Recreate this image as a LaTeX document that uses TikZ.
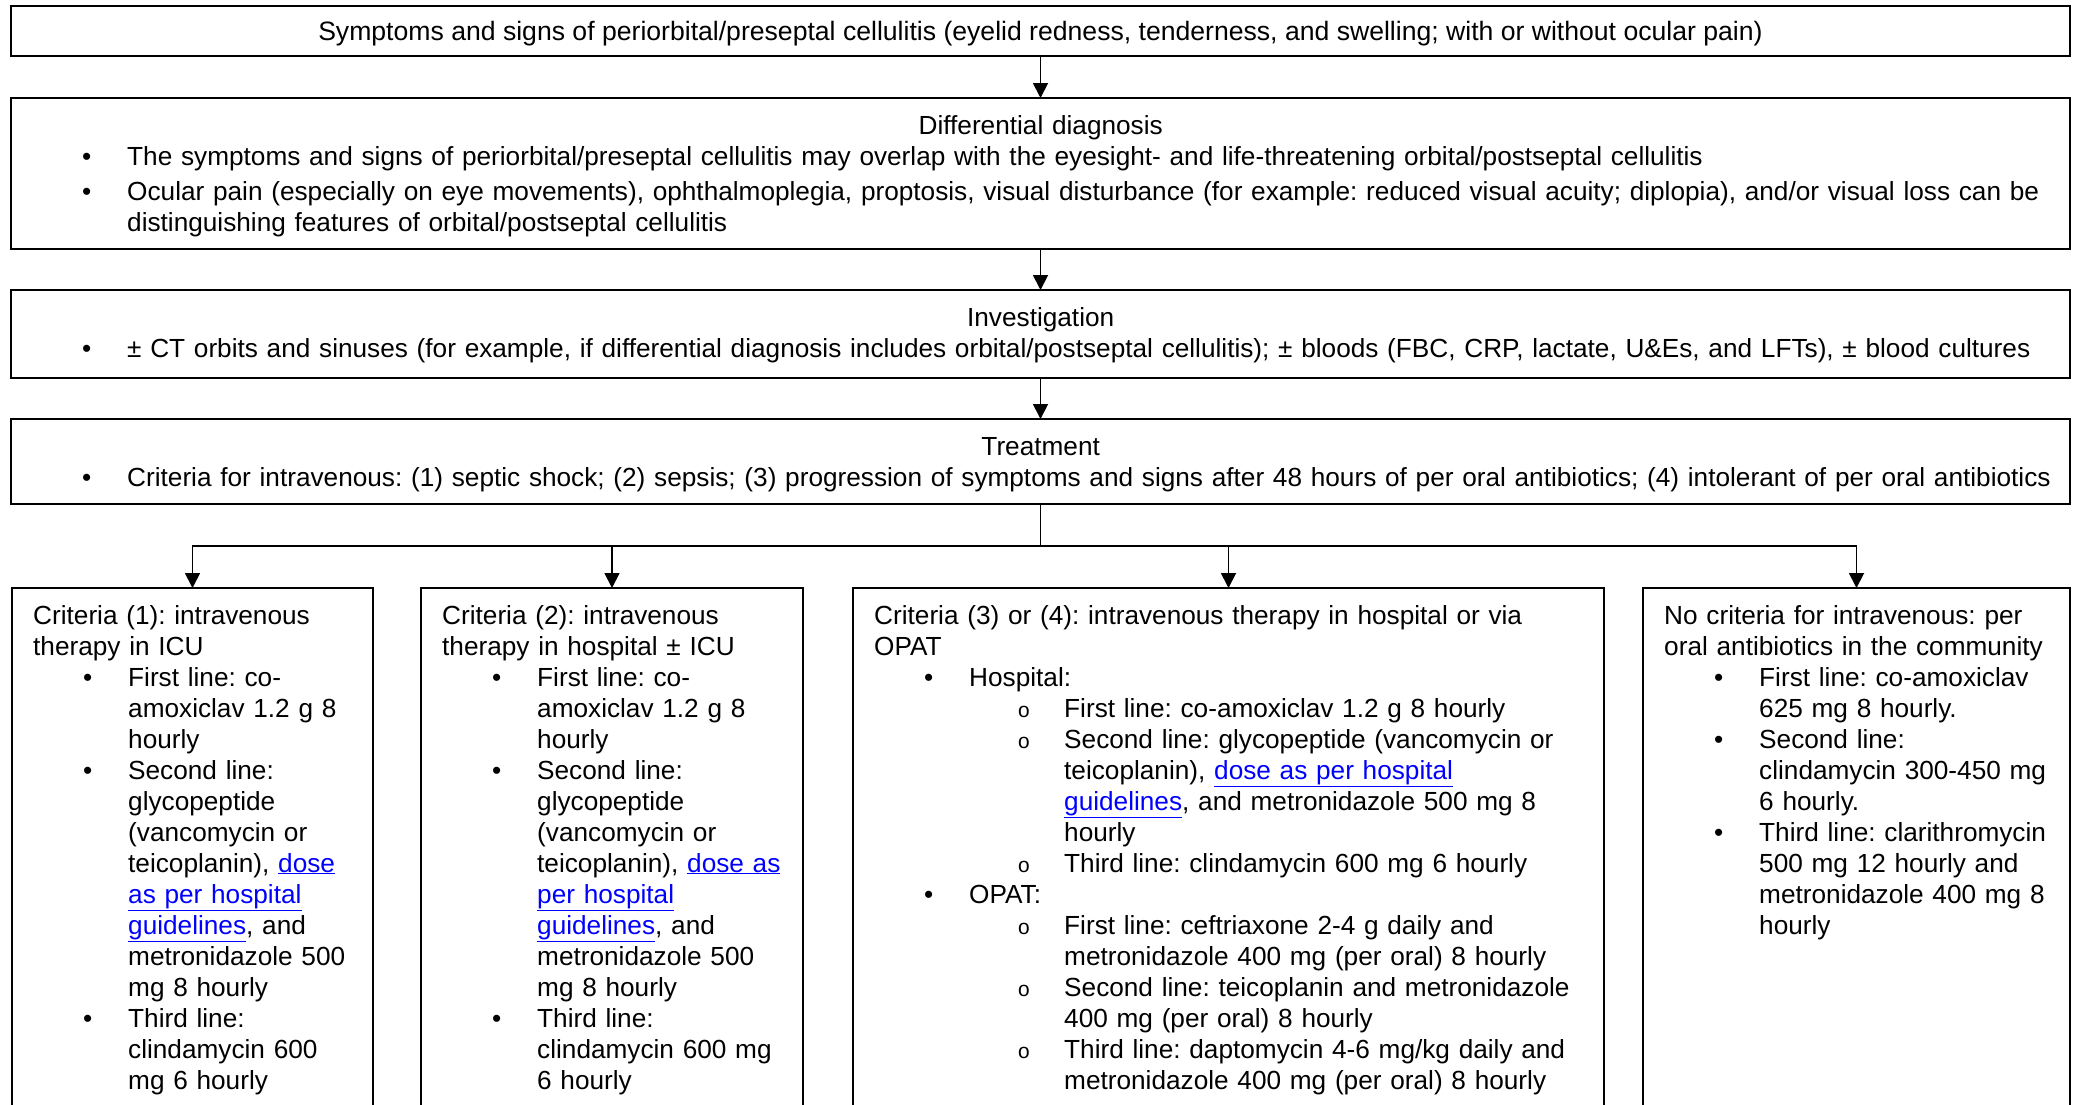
\documentclass[tikz,border=0pt]{standalone}
\usepackage{fontspec}
\setmainfont{Liberation Sans}
\newfontfamily\monofont{Liberation Mono}
\usepackage{enumitem}
\usetikzlibrary{arrows.meta}
\setlist[itemize]{leftmargin=95pt,labelwidth=59pt,labelsep=36pt,itemsep=0pt,parsep=0pt,topsep=0pt,partopsep=0pt,rightmargin=-80pt}
\setlist[itemize,1]{label=\textbullet}
\setlist[itemize,2]{labelwidth=62pt,labelsep=34pt,rightmargin=0pt,label={\monofont\fontsize{21}{21}\selectfont o}}
\newcommand{\doselink}[1]{\textcolor{blue}{\underline{#1}}}

\begin{document}
\begin{tikzpicture}[x=1pt,y=-1pt,>={Triangle[length=15pt,width=15pt]},
  box/.style={draw,line width=2pt,inner sep=0pt,outer sep=0pt,minimum width=2059pt},
  subbox/.style={draw,line width=1.6pt,inner sep=0pt,outer sep=0pt,minimum height=532pt},
  txt/.style={inner sep=0pt,align=left,anchor=base west,font=\fontsize{26.2}{31}\selectfont\frenchspacing},
  conn/.style={line width=1.8pt}]
\useasboundingbox (0,0) rectangle (2081,1104);
\clip (0,0) rectangle (2081,1104);

\node[box,minimum height=50pt] (sym) at (1040.5,31) {};
\node[box,minimum height=151pt] (diff) at (1040.5,173.5) {};
\node[box,minimum height=88pt] (inv) at (1040.5,334) {};
\node[box,minimum height=85pt] (treat) at (1040.5,461.5) {};
\node[subbox,minimum width=361pt] (icu) at (192.5,854) {};
\node[subbox,minimum width=382pt] (hosp) at (612,854) {};
\node[subbox,minimum width=751pt] (opat) at (1228.5,854) {};
\node[subbox,minimum width=427pt] (comm) at (1856.5,854) {};

\node[txt,anchor=base,font=\fontsize{26.6}{31}\selectfont\frenchspacing] (symtxt) at (1040.5,40) {Symptoms and signs of periorbital/preseptal cellulitis (eyelid redness, tenderness, and swelling; with or without ocular pain)};

\node[txt,text width=2017pt] (difftxt) at (32,134) {{\centering Differential diagnosis\par}
\begin{itemize}[itemsep=4pt]
\item The symptoms and signs of periorbital/preseptal cellulitis may overlap with the eyesight- and life-threatening orbital/postseptal cellulitis
\item Ocular pain (especially on eye movements), ophthalmoplegia, proptosis, visual disturbance (for example: reduced visual acuity; diplopia), and/or visual loss can be\newline distinguishing features of orbital/postseptal cellulitis
\end{itemize}};

\node[txt,text width=2017pt] (invtxt) at (32,326) {{\centering Investigation\par}
\begin{itemize}
\item ± CT orbits and sinuses (for example, if differential diagnosis includes orbital/postseptal cellulitis); ± bloods (FBC, CRP, lactate, U\&Es, and LFTs), ± blood cultures
\end{itemize}};

\node[txt,text width=2017pt] (treattxt) at (32,455) {{\centering Treatment\par}
\begin{itemize}
\item Criteria for intravenous: (1) septic shock; (2) sepsis; (3) progression of symptoms and signs after 48 hours of per oral antibiotics; (4) intolerant of per oral antibiotics
\end{itemize}};

\node[txt,text width=330pt] (icutxt) at (33,624) {Criteria (1): intravenous\newline therapy in ICU
\begin{itemize}
\item First line: co-\newline amoxiclav 1.2 g 8\newline hourly
\item Second line:\newline glycopeptide\newline (vancomycin or\newline teicoplanin), \doselink{dose}\newline \doselink{as per hospital}\newline \doselink{guidelines}, and\newline metronidazole 500\newline mg 8 hourly
\item Third line:\newline clindamycin 600\newline mg 6 hourly
\end{itemize}};

\node[txt,text width=350pt] (hosptxt) at (442,624) {Criteria (2): intravenous\newline therapy in hospital ± ICU
\begin{itemize}
\item First line: co-\newline amoxiclav 1.2 g 8\newline hourly
\item Second line:\newline glycopeptide\newline (vancomycin or\newline teicoplanin), \doselink{dose as}\newline \doselink{per hospital}\newline \doselink{guidelines}, and\newline metronidazole 500\newline mg 8 hourly
\item Third line:\newline clindamycin 600 mg\newline 6 hourly
\end{itemize}};

\node[txt,text width=720pt] (opattxt) at (874,624) {Criteria (3) or (4): intravenous therapy in hospital or via\newline OPAT
\begin{itemize}
\item Hospital:
  \begin{itemize}
  \item First line: co-amoxiclav 1.2 g 8 hourly
  \item Second line: glycopeptide (vancomycin or\newline teicoplanin), \doselink{dose as per hospital}\newline \doselink{guidelines}, and metronidazole 500 mg 8\newline hourly
  \item Third line: clindamycin 600 mg 6 hourly
  \end{itemize}
\item OPAT:
  \begin{itemize}
  \item First line: ceftriaxone 2-4 g daily and\newline metronidazole 400 mg (per oral) 8 hourly
  \item Second line: teicoplanin and metronidazole\newline 400 mg (per oral) 8 hourly
  \item Third line: daptomycin 4-6 mg/kg daily and\newline metronidazole 400 mg (per oral) 8 hourly
  \end{itemize}
\end{itemize}};

\node[txt,text width=395pt] (commtxt) at (1664,624) {No criteria for intravenous: per\newline oral antibiotics in the community
\begin{itemize}
\item First line: co-amoxiclav\newline 625 mg 8 hourly.
\item Second line:\newline clindamycin 300-450 mg\newline 6 hourly.
\item Third line: clarithromycin\newline 500 mg 12 hourly and\newline metronidazole 400 mg 8\newline hourly
\end{itemize}};

\draw[conn,->] (sym) -- (diff);
\draw[conn,->] (diff) -- (inv);
\draw[conn,->] (inv) -- (treat);
\coordinate (fork) at (1040.5,546);
\draw[conn] (treat) -- (fork);
\foreach \b in {icu,hosp,opat,comm} \draw[conn,->] (fork) -| (\b);

\end{tikzpicture}
\end{document}
